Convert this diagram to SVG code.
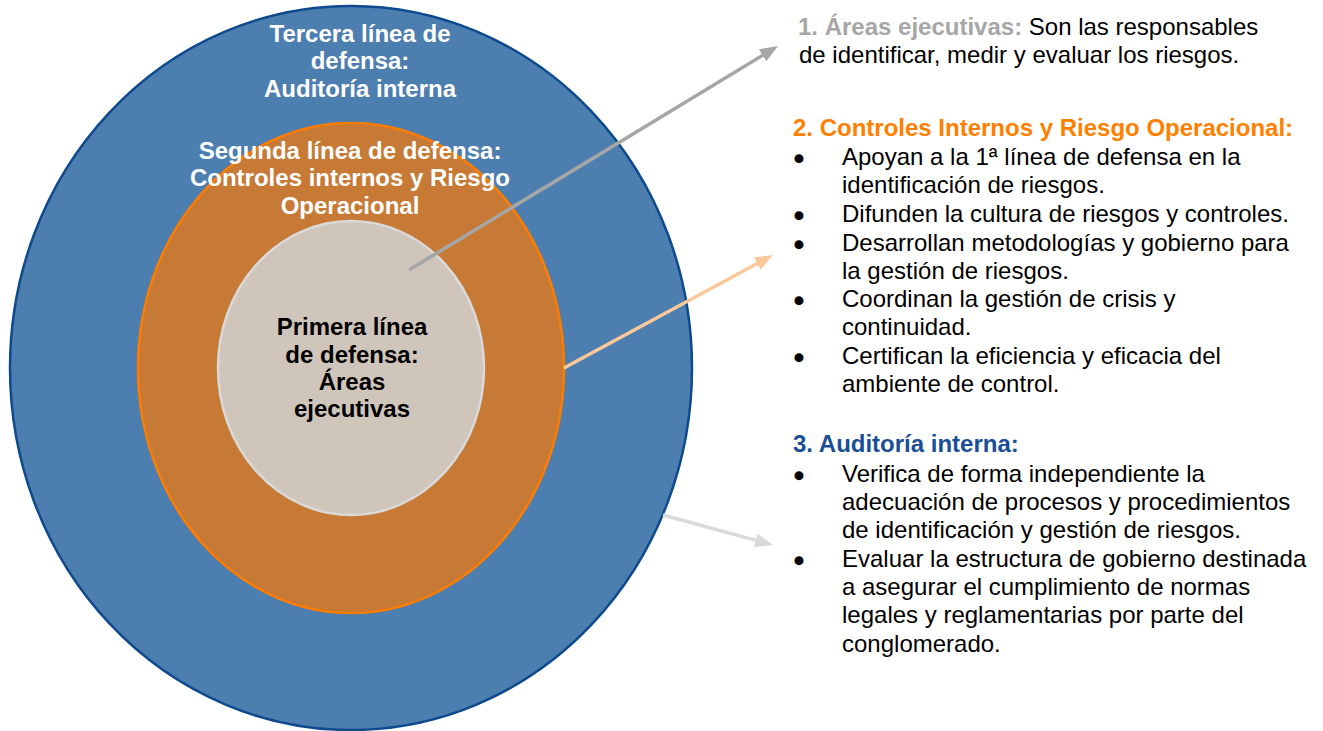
<svg xmlns="http://www.w3.org/2000/svg" width="1323" height="731" viewBox="0 0 1323 731">
<style>
text{font-family:"Liberation Sans",Arial,sans-serif}
.lbl{font-size:24px;font-weight:bold;text-anchor:middle}
.w{fill:#FFFFFF}
.k{fill:#000000}
.t{font-size:24px;fill:#000000}
.h{font-weight:bold}
.b{font-size:24px;fill:#000000;stroke:#000000;stroke-width:2.4;text-anchor:middle}
.conn{fill:none;stroke-width:3.5}
</style>
<defs>
<marker id="ahGrey" viewBox="0 0 18 14" markerWidth="18" markerHeight="14" markerUnits="userSpaceOnUse" refX="8" refY="7" orient="auto"><path d="M0,0 L18,7 L0,14 z" fill="#A6A6A6"/></marker>
<marker id="ahPeach" viewBox="0 0 18 14" markerWidth="18" markerHeight="14" markerUnits="userSpaceOnUse" refX="8" refY="7" orient="auto"><path d="M0,0 L18,7 L0,14 z" fill="#FBC899"/></marker>
<marker id="ahLight" viewBox="0 0 18 14" markerWidth="18" markerHeight="14" markerUnits="userSpaceOnUse" refX="8" refY="7" orient="auto"><path d="M0,0 L18,7 L0,14 z" fill="#D9D9D9"/></marker>
</defs>
<rect width="1323" height="731" fill="#FFFFFF"/>
<g id="tercera">
<ellipse cx="351" cy="368" rx="341" ry="362" fill="#4C7EB0" stroke="#0E4A8E" stroke-width="2.5"/>
<text class="lbl w"><tspan x="360" y="42">Tercera línea de</tspan><tspan x="360" y="69">defensa:</tspan><tspan x="360" y="97">Auditoría interna</tspan></text>
</g>
<g id="segunda">
<ellipse cx="351" cy="368" rx="213" ry="245" fill="#C77A35" stroke="#FF7C00" stroke-width="2.5"/>
<text class="lbl w"><tspan x="350" y="159">Segunda línea de defensa:</tspan><tspan x="350" y="186">Controles internos y Riesgo</tspan><tspan x="350" y="214">Operacional</tspan></text>
</g>
<g id="primera">
<ellipse cx="351" cy="368" rx="133" ry="147" fill="#D0C5BA" stroke="#D9D9D9" stroke-width="2.5"/>
<text class="lbl k"><tspan x="352" y="335">Primera línea</tspan><tspan x="352" y="363">de defensa:</tspan><tspan x="352" y="390">Áreas</tspan><tspan x="352" y="417">ejecutivas</tspan></text>
</g>
<g id="connectors">
<line class="conn" x1="409" y1="270" x2="769.45" y2="51.19" stroke="#A6A6A6" marker-end="url(#ahGrey)"/>
<line class="conn" x1="564" y1="368" x2="764.2" y2="259.76" stroke="#FBC899" marker-end="url(#ahPeach)"/>
<line class="conn" x1="663" y1="515" x2="763.35" y2="542.37" stroke="#D9D9D9" marker-end="url(#ahLight)"/>
</g>
<g id="texto1">
<text class="t" x="798" y="35"><tspan class="h" fill="#A6A6A6">1. Áreas ejecutivas:</tspan> Son las responsables</text>
<text class="t" x="799" y="63">de identificar, medir y evaluar los riesgos.</text>
</g>
<g id="texto2">
<text class="t h" x="793" y="136" style="fill:#FF7F00">2. Controles Internos y Riesgo Operacional:</text>
<text class="b" x="799" y="167">•</text>
<text class="t" x="842" y="165">Apoyan a la 1ª línea de defensa en la</text>
<text class="t" x="842" y="193">identificación de riesgos.</text>
<text class="b" x="799" y="224">•</text>
<text class="t" x="842" y="222">Difunden la cultura de riesgos y controles.</text>
<text class="b" x="799" y="253">•</text>
<text class="t" x="842" y="251">Desarrollan metodologías y gobierno para</text>
<text class="t" x="842" y="279">la gestión de riesgos.</text>
<text class="b" x="799" y="309">•</text>
<text class="t" x="842" y="307">Coordinan la gestión de crisis y</text>
<text class="t" x="842" y="335">continuidad.</text>
<text class="b" x="799" y="366">•</text>
<text class="t" x="842" y="364">Certifican la eficiencia y eficacia del</text>
<text class="t" x="842" y="392">ambiente de control.</text>
</g>
<g id="texto3">
<text class="t h" x="793" y="452" style="fill:#1A4F98">3. Auditoría interna:</text>
<text class="b" x="799" y="484">•</text>
<text class="t" x="842" y="482">Verifica de forma independiente la</text>
<text class="t" x="842" y="510">adecuación de procesos y procedimientos</text>
<text class="t" x="842" y="538">de identificación y gestión de riesgos.</text>
<text class="b" x="799" y="569">•</text>
<text class="t" x="842" y="567">Evaluar la estructura de gobierno destinada</text>
<text class="t" x="842" y="595">a asegurar el cumplimiento de normas</text>
<text class="t" x="842" y="623">legales y reglamentarias por parte del</text>
<text class="t" x="842" y="652">conglomerado.</text>
</g>
</svg>
